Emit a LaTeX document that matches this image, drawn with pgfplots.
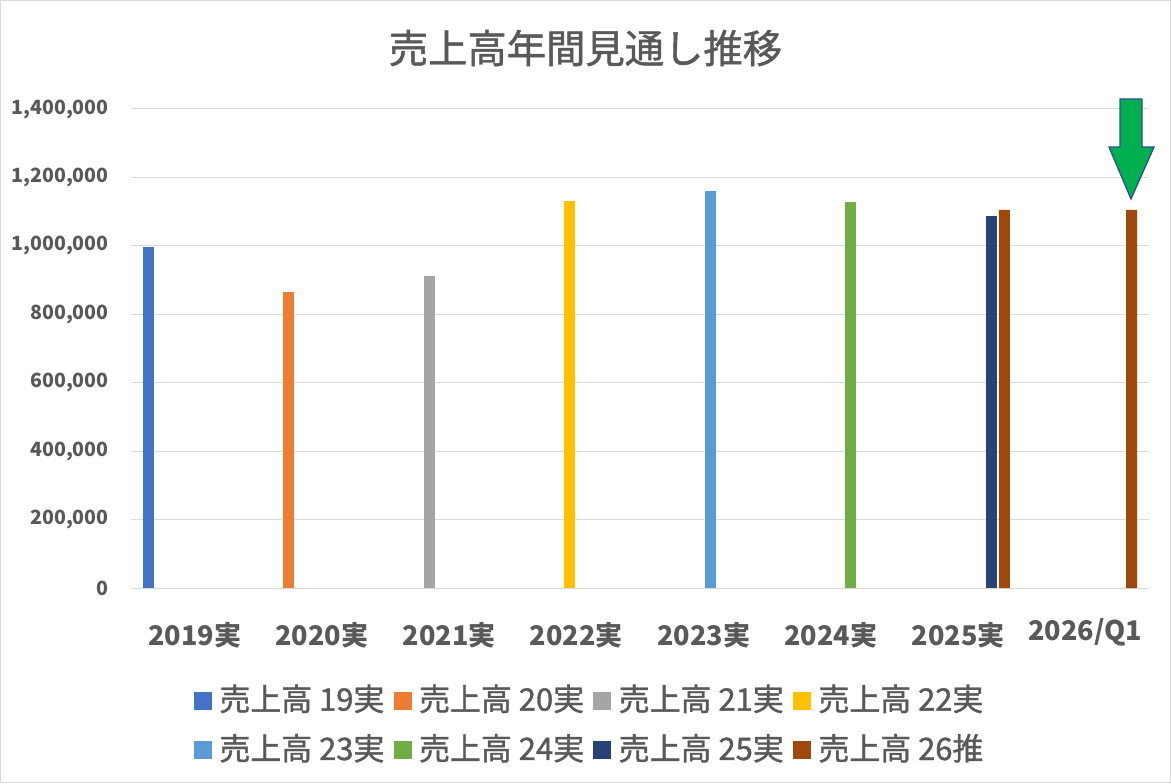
\documentclass[border=0pt]{standalone}
\usepackage{fontspec}
\setmainfont{Noto Sans CJK JP}
\newfontfamily\medfont[FakeBold=1.2]{Noto Sans CJK JP}
\usepackage{pgfplots}
\pgfplotsset{compat=1.18}
\definecolor{txt}{HTML}{595959}
\definecolor{gridc}{HTML}{D9D9D9}
\definecolor{c1}{HTML}{4472C4}
\definecolor{c2}{HTML}{ED7D31}
\definecolor{c3}{HTML}{A5A5A5}
\definecolor{c4}{HTML}{FFC000}
\definecolor{c5}{HTML}{5B9BD5}
\definecolor{c6}{HTML}{70AD47}
\definecolor{c7}{HTML}{264478}
\definecolor{c8}{HTML}{9E480E}
\definecolor{arrowg}{HTML}{00B050}
\definecolor{arrowb}{HTML}{2F528F}
\begin{document}
\begin{tikzpicture}
\useasboundingbox (0pt,0pt) rectangle (878.25pt,587.25pt);
\fill[white] (0pt,0pt) rectangle (878.25pt,587.25pt);
\draw[gridc,line width=0.75pt] (0.375pt,0.375pt) rectangle (877.875pt,586.875pt);
\node[text=txt,font=\medfont\fontsize{29.5}{34}\selectfont] at (439.1pt,551.25pt) {売上高年間見通し推移};
\begin{axis}[
  at={(98.25pt,146.25pt)}, anchor=south west,
  scale only axis, width=763.5pt, height=359.25pt,
  ybar, bar width=0.0864,
  xmin=-0.5, xmax=7.5, ymin=0, ymax=1400000,
  xtick={0,1,2,3,4,5,6,7},
  xticklabels={2019実,2020実,2021実,2022実,2023実,2024実,2025実,\raisebox{3.75pt}{2026/Q1}},
  ytick={0,200000,400000,600000,800000,1000000,1200000,1400000},
  scaled y ticks=false,
  yticklabel={\pgfmathprintnumber[fixed,1000 sep={,},assume math mode=true]{\tick}},
  ymajorgrids, grid style={gridc,line width=0.75pt},
  axis x line*=bottom, axis y line*=left,
  x axis line style={-,draw=gridc,line width=0.75pt},
  y axis line style={draw=none},
  major tick length=0pt, tick style={draw=none},
  yticklabel style={font=\bfseries\fontsize{14.7}{18}\selectfont, text=txt, inner sep=0pt, anchor=east, xshift=-16.5pt},
  xticklabel style={font=\bfseries\fontsize{20.3}{24}\selectfont, text=txt, inner sep=0pt, anchor=base, yshift=-42.75pt},
  legend columns=4,
  legend style={at={(0.451,-0.19)}, anchor=north, draw=none, fill=none,
    font=\medfont\fontsize{23.2}{27}\selectfont, text=txt,
    row sep=12pt,
    /tikz/every odd column/.append style={column sep=3.5pt},
    /tikz/every even column/.append style={column sep=5pt}},
  legend image code/.code={\fill[#1,/tikz/.cd,draw=none] (0pt,-8.2pt) rectangle (13.5pt,5.3pt);},
]
\addplot[fill=c1,draw=none,bar shift=-0.3644] coordinates {(0,998000)};
\addlegendentry{売上高 19実}
\addplot[fill=c2,draw=none,bar shift=-0.2603] coordinates {(1,865500)};
\addlegendentry{売上高 20実}
\addplot[fill=c3,draw=none,bar shift=-0.1562] coordinates {(2,912300)};
\addlegendentry{売上高 21実}
\addplot[fill=c4,draw=none,bar shift=-0.0521] coordinates {(3,1131600)};
\addlegendentry{売上高 22実}
\addplot[fill=c5,draw=none,bar shift=0.0521] coordinates {(4,1160800)};
\addlegendentry{売上高 23実}
\addplot[fill=c6,draw=none,bar shift=0.1562] coordinates {(5,1128700)};
\addlegendentry{売上高 24実}
\addplot[fill=c7,draw=none,bar shift=0.2603] coordinates {(6,1087700)};
\addlegendentry{売上高 25実}
\addplot[fill=c8,draw=none,bar shift=0.3644] coordinates {(6,1105000) (7,1105000)};
\addlegendentry{売上高 26推}
\end{axis}
\draw[fill=arrowg,draw=arrowb,line width=1pt,line join=miter]
  (840pt,513pt) -- (856.5pt,513pt) -- (856.5pt,477pt) -- (865.5pt,477pt)
  -- (848.25pt,438pt) -- (831.75pt,477pt) -- (840pt,477pt) -- cycle;
\end{tikzpicture}
\end{document}
